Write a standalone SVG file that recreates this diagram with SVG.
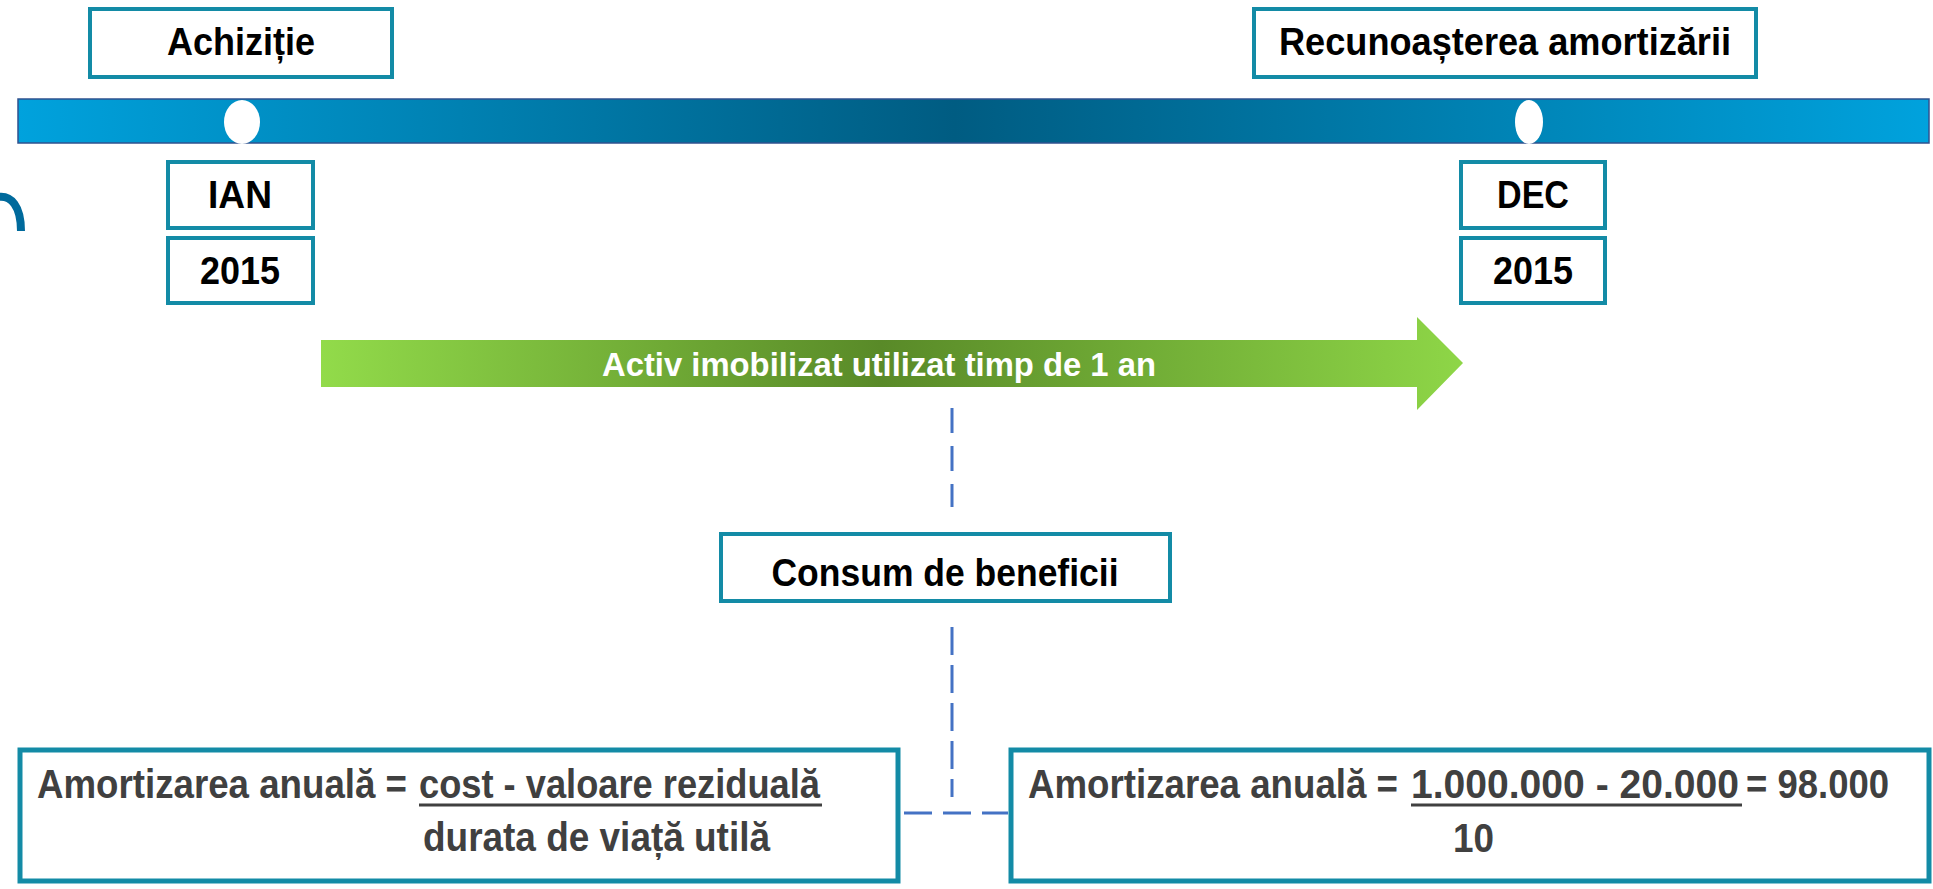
<svg xmlns="http://www.w3.org/2000/svg" width="1933" height="889" viewBox="0 0 1933 889">
  <defs>
    <linearGradient id="barGrad" x1="18" y1="0" x2="1929" y2="0" gradientUnits="userSpaceOnUse">
      <stop offset="0" stop-color="#00A2DD"/>
      <stop offset="0.49" stop-color="#005C82"/>
      <stop offset="1" stop-color="#00A2DD"/>
    </linearGradient>
    <linearGradient id="arrowGrad" x1="321" y1="0" x2="1463" y2="0" gradientUnits="userSpaceOnUse">
      <stop offset="0" stop-color="#92DB4A"/>
      <stop offset="0.49" stop-color="#598A28"/>
      <stop offset="1" stop-color="#8ED647"/>
    </linearGradient>
    <style>
      .box { fill: #FFFFFF; stroke: #138BA6; stroke-width: 4; }
      .fbox { fill: #FFFFFF; stroke: #138BA6; stroke-width: 5; }
      .lbl { font-family: "Liberation Sans", Arial, sans-serif; font-weight: bold; font-size: 38px; fill: #000000; text-anchor: middle; }
      .ftxt { font-family: "Liberation Sans", Arial, sans-serif; font-weight: bold; font-size: 40px; fill: #404040; }
      .dash { stroke: #4472C4; stroke-width: 3; fill: none; }
    </style>
  </defs>

  <rect width="1933" height="889" fill="#FFFFFF"/>

  <!-- decorative arc at left edge -->
  <path d="M -2,197 C 11,195 21,206 21,231" fill="none" stroke="#006A9C" stroke-width="8"/>

  <!-- timeline bar -->
  <g id="timeline">
    <rect x="18" y="99" width="1911" height="44" fill="url(#barGrad)" stroke="#2F528F" stroke-width="1.5"/>
    <ellipse cx="242" cy="122" rx="18" ry="22" fill="#FFFFFF"/>
    <ellipse cx="1529" cy="122" rx="14" ry="22" fill="#FFFFFF"/>
  </g>

  <g id="achizitie">
    <rect class="box" x="90" y="9" width="302" height="68"/>
    <text class="lbl" x="241" y="55" textLength="148" lengthAdjust="spacingAndGlyphs">Achiziție</text>
  </g>
  <g id="recunoasterea">
    <rect class="box" x="1254" y="9" width="502" height="68"/>
    <text class="lbl" x="1505" y="55" textLength="452" lengthAdjust="spacingAndGlyphs">Recunoașterea amortizării</text>
  </g>
  <g id="ian">
    <rect class="box" x="168" y="162" width="145" height="66"/>
    <text class="lbl" x="240" y="208" textLength="64" lengthAdjust="spacingAndGlyphs">IAN</text>
  </g>
  <g id="an2015a">
    <rect class="box" x="168" y="238" width="145" height="65"/>
    <text class="lbl" x="240" y="284" textLength="80" lengthAdjust="spacingAndGlyphs">2015</text>
  </g>
  <g id="dec">
    <rect class="box" x="1461" y="162" width="144" height="66"/>
    <text class="lbl" x="1533" y="208" textLength="72" lengthAdjust="spacingAndGlyphs">DEC</text>
  </g>
  <g id="an2015b">
    <rect class="box" x="1461" y="238" width="144" height="65"/>
    <text class="lbl" x="1533" y="284" textLength="80" lengthAdjust="spacingAndGlyphs">2015</text>
  </g>

  <g id="arrow">
    <polygon points="321,340 1417,340 1417,317 1463,363 1417,410 1417,387 321,387" fill="url(#arrowGrad)"/>
    <text x="879" y="376" font-family="Liberation Sans, Arial, sans-serif" font-weight="bold" font-size="33" fill="#FFFFFF" text-anchor="middle" textLength="554" lengthAdjust="spacingAndGlyphs">Activ imobilizat utilizat timp de 1 an</text>
  </g>

  <g id="connectors">
    <line class="dash" x1="952" y1="408" x2="952" y2="507" stroke-dasharray="25 13"/>
    <line class="dash" x1="952" y1="627" x2="952" y2="797" stroke-dasharray="28 10"/>
    <line class="dash" x1="904" y1="813" x2="1008" y2="813" stroke-dasharray="28 11"/>
  </g>

  <g id="consum">
    <rect class="box" x="721" y="534" width="449" height="67"/>
    <text class="lbl" x="945" y="586" textLength="347" lengthAdjust="spacingAndGlyphs">Consum de beneficii</text>
  </g>

  <g id="formula-general">
    <rect class="fbox" x="20" y="750" width="878" height="131"/>
    <text class="ftxt" x="37" y="798" textLength="370" lengthAdjust="spacingAndGlyphs">Amortizarea anuală =</text>
    <text class="ftxt" x="419" y="798" textLength="401" lengthAdjust="spacingAndGlyphs">cost - valoare reziduală</text>
    <line x1="419" y1="805" x2="822" y2="805" stroke="#404040" stroke-width="3"/>
    <text class="ftxt" x="423" y="851" textLength="347" lengthAdjust="spacingAndGlyphs">durata de viață utilă</text>
  </g>

  <g id="formula-calc">
    <rect class="fbox" x="1011" y="750" width="918" height="131"/>
    <text class="ftxt" x="1028" y="798" textLength="370" lengthAdjust="spacingAndGlyphs">Amortizarea anuală =</text>
    <text class="ftxt" x="1411" y="798" textLength="328" lengthAdjust="spacingAndGlyphs">1.000.000 - 20.000</text>
    <line x1="1411" y1="805" x2="1742" y2="805" stroke="#404040" stroke-width="3"/>
    <text class="ftxt" x="1746" y="798" textLength="143" lengthAdjust="spacingAndGlyphs">= 98.000</text>
    <text class="ftxt" x="1453" y="852" textLength="41" lengthAdjust="spacingAndGlyphs">10</text>
  </g>
</svg>
